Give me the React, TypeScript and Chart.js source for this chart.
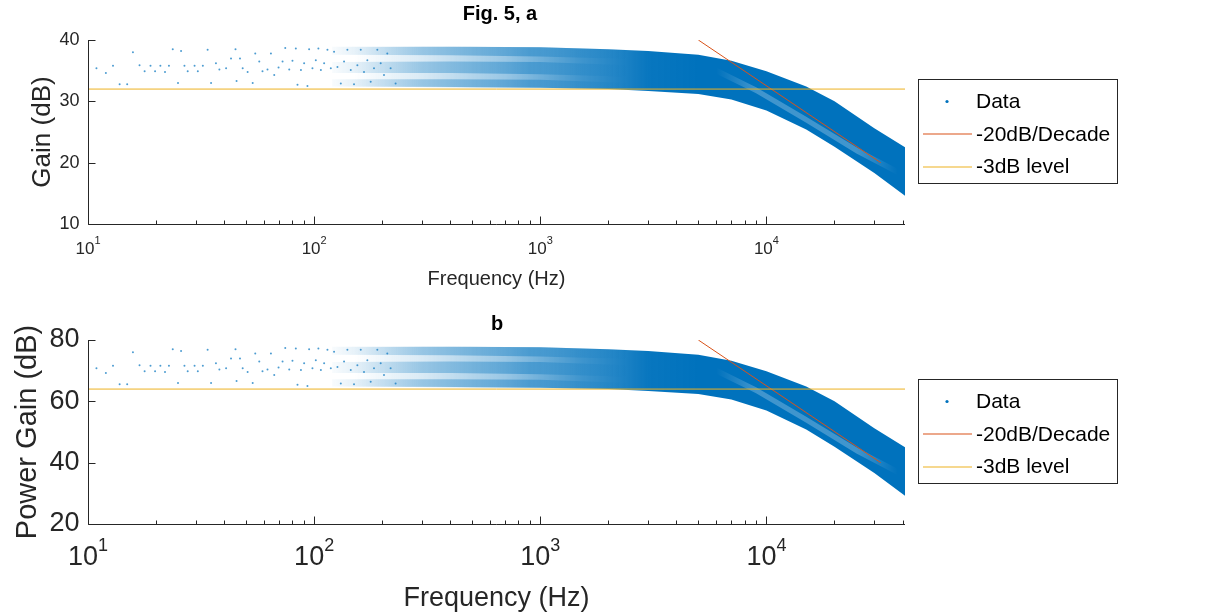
import React, { useEffect, useRef } from "react";
import { Chart, registerables } from "chart.js";

Chart.register(...registerables);

// ---------- data ----------
const X_MIN = 10;
const X_MAX = 41000;

const xTickValues = [10, 100, 1000, 10000];
const xTickExponents = ["1", "2", "3", "4"];
const yTicksA = [10, 20, 30, 40];
const yTicksB = [20, 40, 60, 80];

// sparse low-frequency measurements (Hz)
const sparseFreq = [
  10.9, 12.0, 12.9, 13.8, 14.9, 15.8, 16.9, 17.8, 18.9, 19.8,
  20.9, 21.9, 22.8, 23.7, 25.0, 25.8, 26.7, 27.6, 29.6, 30.6,
  32.2, 33.8, 35.0, 36.8, 38.1, 40.8, 42.9, 44.9, 45.4, 47.0,
  48.3, 50.8, 53.5, 54.9, 57.2, 59.1, 62.2, 64.4, 66.6, 69.6,
  72.5, 74.5, 77.6, 80.2, 83.0, 84.4, 87.4, 90.3, 93.4, 95.0,
  98.3, 101.7, 104.4, 107.1, 110.7, 114.5, 118.5, 122.5, 126.8, 131.2,
  135.6, 140.3, 145.2, 150.1, 155.3, 160.7, 166.1, 171.9, 177.8, 183.9,
  190.3, 196.9, 203.6, 210.6, 217.9, 229.2,
];
const sparseGainA = [
  35.4, 34.6, 35.8, 32.8, 32.8, 38.0, 35.9, 34.9, 35.8, 34.9,
  35.8, 34.8, 35.8, 38.5, 33.0, 38.2, 35.8, 34.9, 35.8, 34.9,
  35.8, 38.4, 33.0, 36.2, 35.2, 35.4, 37.0, 38.5, 33.3, 37.0,
  35.4, 34.8, 33.0, 37.8, 36.5, 34.9, 35.2, 37.8, 34.3, 35.5,
  36.5, 38.7, 35.2, 36.6, 38.6, 32.7, 35.1, 36.2, 32.5, 38.5,
  35.4, 36.7, 38.6, 35.1, 36.2, 38.4, 35.4, 38.1, 35.6, 32.9,
  36.5, 38.4, 35.1, 32.8, 35.9, 38.4, 34.8, 36.7, 33.2, 35.4,
  38.4, 36.2, 34.3, 37.8, 35.4, 32.9,
];
const sparseGainB = [
  70.8, 69.2, 71.6, 65.6, 65.6, 76.0, 71.8, 69.8, 71.6, 69.8,
  71.6, 69.6, 71.6, 77.0, 66.0, 76.4, 71.6, 69.8, 71.6, 69.8,
  71.6, 76.8, 66.0, 72.4, 70.4, 70.8, 74.0, 77.0, 66.6, 74.0,
  70.8, 69.6, 66.0, 75.6, 73.0, 69.8, 70.4, 75.6, 68.6, 71.0,
  73.0, 77.4, 70.4, 73.2, 77.2, 65.4, 70.2, 72.4, 65.0, 77.0,
  70.8, 73.4, 77.2, 70.2, 72.4, 76.8, 70.8, 76.2, 71.2, 65.8,
  73.0, 76.8, 70.2, 65.6, 71.8, 76.8, 69.6, 73.4, 66.4, 70.8,
  76.8, 72.4, 68.6, 75.6, 70.8, 65.8,
];

// dense measurement cloud: upper / lower envelope
const bandFreq = [150, 300, 500, 1000, 2000, 3000, 5000, 7000, 10000, 15000, 20000, 30000, 41000];
const bandUpperA = [38.8, 38.9, 38.9, 38.8, 38.5, 38.2, 37.6, 36.6, 34.9, 32.4, 30.0, 25.6, 22.5];
const bandLowerA = [32.4, 32.4, 32.3, 32.2, 32.0, 31.7, 31.2, 30.3, 28.5, 25.4, 22.6, 18.3, 14.6];
const bandUpperB = [77.6, 77.8, 77.8, 77.6, 77.0, 76.4, 75.2, 73.2, 69.8, 64.8, 60.0, 51.2, 45.0];
const bandLowerB = [64.8, 64.8, 64.6, 64.4, 64.0, 63.4, 62.4, 60.6, 57.0, 50.8, 45.2, 36.6, 29.2];

// denser stripes inside the cloud at mid frequencies
const stripeFreq = [120, 400, 1000, 2500];
const stripeTopUA = [38.9, 38.9, 38.8, 38.4];
const stripeTopLA = [37.6, 37.5, 37.3, 36.9];
const stripeMidUA = [36.4, 36.5, 36.4, 35.9];
const stripeMidLA = [34.6, 34.6, 34.4, 34.0];
const stripeLowUA = [33.6, 33.6, 33.5, 33.0];
const stripeLowLA = [32.4, 32.3, 32.2, 31.9];
const stripeTopUB = [77.8, 77.8, 77.6, 76.8];
const stripeTopLB = [75.2, 75.0, 74.6, 73.8];
const stripeMidUB = [72.8, 73.0, 72.8, 71.8];
const stripeMidLB = [69.2, 69.2, 68.8, 68.0];
const stripeLowUB = [67.2, 67.2, 67.0, 66.0];
const stripeLowLB = [64.8, 64.6, 64.4, 63.8];

// sparser (lighter) streak running through the roll-off part of the cloud
const streakFreq = [6000, 9000, 15000, 25000, 38000];
const streakUpperA = [35.5, 32.3, 27.5, 22.5, 19.0];
const streakLowerA = [34.5, 31.3, 26.5, 21.5, 18.0];
const streakUpperB = [71.0, 64.6, 55.0, 45.0, 38.0];
const streakLowerB = [69.0, 62.6, 53.0, 43.0, 36.0];

// -20 dB/decade reference line
const slopeFreq = [5000, 32000];
const slopeGainA = [40, 20];
const slopeGainB = [80, 40];

// -3 dB level
const levelFreq = [10, 41000];
const levelGainA = [32, 32];
const levelGainB = [64, 64];

// ---------- styling ----------
const FONT = '"Liberation Sans", Arial, Helvetica, sans-serif';
const BLUE = "#0072BD";
const RED = "#D95319";
const YELLOW = "#EDB120";
const AXIS = "#262626";

const pts = (xs: number[], ys: number[]) => xs.map((x, i) => ({ x, y: ys[i] }));

const gradientFill = (stops: [number, number][], rgb: string) => (ctx: any) => {
  const chart = ctx.chart;
  const xs = chart.scales && chart.scales.x;
  if (!chart.chartArea || !xs) return `rgba(${rgb},0.8)`;
  const x0 = xs.getPixelForValue(stops[0][0]);
  const x1 = xs.getPixelForValue(stops[stops.length - 1][0]);
  const g = chart.ctx.createLinearGradient(x0, 0, x1, 0);
  for (const [f, a] of stops) {
    const p = (xs.getPixelForValue(f) - x0) / (x1 - x0);
    g.addColorStop(Math.min(1, Math.max(0, p)), `rgba(${rgb},${a})`);
  }
  return g;
};

const bandStops: [number, number][] = [
  [150, 0],
  [300, 0.15],
  [700, 0.4],
  [1500, 0.75],
  [3000, 0.97],
  [5000, 1],
  [41000, 1],
];
const stripeStops: [number, number][] = [
  [110, 0],
  [300, 0.3],
  [900, 0.4],
  [2500, 0],
];
const streakStops: [number, number][] = [
  [6000, 0],
  [9000, 0.25],
  [25000, 0.25],
  [38000, 0],
];

interface PanelCfg {
  title: string;
  yTitle: string;
  yTicks: number[];
  yMin: number;
  yMax: number;
  height: number;
  yTickFont: number;
  tickFont: number;
  supFont: number;
  xLabelFont: number;
  yLabelFont: number;
  titleFont: number;
  titleX: number;
  titleBase: number;
  xTickBase: number;
  xSupBase: number;
  xTitleBase: number;
  yTitleX: number;
  sparse: number[];
  bandU: number[];
  bandL: number[];
  stripes: number[][];
  streakU: number[];
  streakL: number[];
  slope: number[];
  level: number[];
}

const makeDecor = (cfg: PanelCfg) => ({
  id: "decor",
  afterDraw(chart: any) {
    const c = chart.ctx as CanvasRenderingContext2D;
    const a = chart.chartArea;
    const xs = chart.scales.x;
    const ys = chart.scales.y;
    c.save();
    c.strokeStyle = AXIS;
    c.lineWidth = 1;
    const L = Math.round(a.left) + 0.5;
    const B = Math.round(a.bottom) + 0.5;
    c.beginPath();
    c.moveTo(L, a.top);
    c.lineTo(L, B);
    c.lineTo(a.right, B);
    for (const v of cfg.yTicks) {
      const y = Math.round(ys.getPixelForValue(v)) + 0.5;
      c.moveTo(L, y);
      c.lineTo(L + 7, y);
    }
    for (const v of xTickValues) {
      const x = Math.round(xs.getPixelForValue(v)) + 0.5;
      c.moveTo(x, B);
      c.lineTo(x, B - 8);
      for (let m = 2; m <= 9; m++) {
        const mv = v * m;
        if (mv > X_MAX) break;
        const mx = Math.round(xs.getPixelForValue(mv)) + 0.5;
        c.moveTo(mx, B);
        c.lineTo(mx, B - 4);
      }
    }
    c.stroke();

    // y tick labels
    c.fillStyle = AXIS;
    c.font = `${cfg.yTickFont}px ${FONT}`;
    c.textAlign = "right";
    c.textBaseline = "middle";
    for (const v of cfg.yTicks) c.fillText(String(v), L - 9, ys.getPixelForValue(v));

    // x tick labels 10^n
    c.textAlign = "left";
    c.textBaseline = "alphabetic";
    xTickValues.forEach((v, i) => {
      const px = xs.getPixelForValue(v);
      c.font = `${cfg.tickFont}px ${FONT}`;
      const w1 = c.measureText("10").width;
      c.font = `${cfg.supFont}px ${FONT}`;
      const w2 = c.measureText(xTickExponents[i]).width;
      const x0 = px - (w1 + w2) / 2;
      c.font = `${cfg.tickFont}px ${FONT}`;
      c.fillText("10", x0, cfg.xTickBase);
      c.font = `${cfg.supFont}px ${FONT}`;
      c.fillText(xTickExponents[i], x0 + w1, cfg.xSupBase);
    });

    // axis titles
    const cx = (a.left + a.right) / 2;
    c.font = `${cfg.xLabelFont}px ${FONT}`;
    c.textAlign = "center";
    c.fillText("Frequency (Hz)", cx, cfg.xTitleBase);
    c.save();
    c.font = `${cfg.yLabelFont}px ${FONT}`;
    c.translate(cfg.yTitleX, (a.top + a.bottom) / 2);
    c.rotate(-Math.PI / 2);
    c.textBaseline = "middle";
    c.fillText(cfg.yTitle, 0, 0);
    c.restore();

    // title
    c.fillStyle = "#000";
    c.font = `bold ${cfg.titleFont}px ${FONT}`;
    c.textAlign = "center";
    c.textBaseline = "alphabetic";
    c.fillText(cfg.title, cfg.titleX, cfg.titleBase);

    // legend
    const bx = 918.5, by = 79.5, bw = 199, bh = 104;
    c.fillStyle = "#fff";
    c.fillRect(bx, by, bw, bh);
    c.strokeStyle = AXIS;
    c.lineWidth = 1;
    c.strokeRect(bx, by, bw, bh);
    const rows = [22, 54.5, 87];
    const entries = chart.data.datasets.filter((d: any) => d.label && !d.label.startsWith("_"));
    c.font = `21px ${FONT}`;
    c.textAlign = "left";
    c.textBaseline = "middle";
    entries.forEach((d: any, i: number) => {
      const y = by + rows[i];
      if (d.showLine === false) {
        c.fillStyle = BLUE;
        c.beginPath();
        c.arc(947, y, 1.6, 0, Math.PI * 2);
        c.fill();
      } else {
        c.strokeStyle = d.borderColor;
        c.lineWidth = 1.2;
        c.beginPath();
        c.moveTo(923, Math.round(y));
        c.lineTo(972, Math.round(y));
        c.stroke();
      }
      c.fillStyle = "#000";
      c.fillText(d.label, 976, y + 1);
    });
    c.restore();
  },
});

function buildChart(canvas: HTMLCanvasElement, cfg: PanelCfg) {
  const fillPair = (
    u: number[],
    l: number[],
    xs: number[],
    stops: [number, number][],
    rgb: string,
    name: string,
    order: number
  ) => [
    {
      label: "_" + name + "U",
      data: pts(xs, u),
      showLine: true,
      borderWidth: 0,
      borderColor: "rgba(0,0,0,0)",
      pointRadius: 0,
      fill: "+1",
      backgroundColor: gradientFill(stops, rgb),
      order,
    },
    {
      label: "_" + name + "L",
      data: pts(xs, l),
      showLine: true,
      borderWidth: 0,
      borderColor: "rgba(0,0,0,0)",
      pointRadius: 0,
      fill: false,
      order,
    },
  ];
  const datasets: any[] = [
    {
      label: "Data",
      data: pts(sparseFreq, cfg.sparse),
      showLine: false,
      pointRadius: 1,
      pointBorderWidth: 0,
      pointBackgroundColor: "rgba(0,114,189,0.7)",
      borderColor: BLUE,
      order: 4,
    },
    {
      label: "-20dB/Decade",
      data: pts(slopeFreq, cfg.slope),
      showLine: true,
      borderColor: RED,
      borderWidth: 1,
      pointRadius: 0,
      fill: false,
      order: 1,
    },
    {
      label: "-3dB level",
      data: pts(levelFreq, cfg.level),
      showLine: true,
      borderColor: YELLOW,
      borderWidth: 1,
      pointRadius: 0,
      fill: false,
      order: 0,
    },
    ...fillPair(cfg.bandU, cfg.bandL, bandFreq, bandStops, "0,114,189", "band", 6),
    ...fillPair(cfg.stripes[0], cfg.stripes[1], stripeFreq, stripeStops, "0,114,189", "s1", 5),
    ...fillPair(cfg.stripes[2], cfg.stripes[3], stripeFreq, stripeStops, "0,114,189", "s2", 5),
    ...fillPair(cfg.stripes[4], cfg.stripes[5], stripeFreq, stripeStops, "0,114,189", "s3", 5),
    ...fillPair(cfg.streakU, cfg.streakL, streakFreq, streakStops, "255,255,255", "streak", 3),
  ];
  return new Chart(canvas, {
    type: "line",
    data: { datasets },
    options: {
      animation: false,
      responsive: false,
      devicePixelRatio: 1,
      events: [],
      layout: { padding: { left: 88, right: 1214 - 905, top: 40, bottom: cfg.height - 224 } },
      scales: {
        x: { type: "logarithmic", min: X_MIN, max: X_MAX, display: false },
        y: { type: "linear", min: cfg.yMin, max: cfg.yMax, display: false },
      },
      plugins: {
        legend: { display: false },
        tooltip: { enabled: false },
        title: { display: false },
      },
      elements: { line: { tension: 0 } },
    },
    plugins: [makeDecor(cfg)],
  });
}

const cfgA: PanelCfg = {
  title: "Fig. 5, a",
  yTitle: "Gain (dB)",
  yTicks: yTicksA,
  yMin: 10,
  yMax: 40,
  height: 300,
  yTickFont: 18,
  tickFont: 17,
  supFont: 11,
  xLabelFont: 20,
  yLabelFont: 26,
  titleFont: 20,
  titleX: 500,
  titleBase: 20,
  xTickBase: 254,
  xSupBase: 244,
  xTitleBase: 285,
  yTitleX: 43,
  sparse: sparseGainA,
  bandU: bandUpperA,
  bandL: bandLowerA,
  stripes: [stripeTopUA, stripeTopLA, stripeMidUA, stripeMidLA, stripeLowUA, stripeLowLA],
  streakU: streakUpperA,
  streakL: streakLowerA,
  slope: slopeGainA,
  level: levelGainA,
};

const cfgB: PanelCfg = {
  title: "b",
  yTitle: "Power Gain (dB)",
  yTicks: yTicksB,
  yMin: 20,
  yMax: 80,
  height: 313,
  yTickFont: 27,
  tickFont: 27,
  supFont: 18,
  xLabelFont: 27,
  yLabelFont: 29,
  titleFont: 20,
  titleX: 497,
  titleBase: 30,
  xTickBase: 265,
  xSupBase: 251,
  xTitleBase: 306,
  yTitleX: 28,
  sparse: sparseGainB,
  bandU: bandUpperB,
  bandL: bandLowerB,
  stripes: [stripeTopUB, stripeTopLB, stripeMidUB, stripeMidLB, stripeLowUB, stripeLowLB],
  streakU: streakUpperB,
  streakL: streakLowerB,
  slope: slopeGainB,
  level: levelGainB,
};

export default function App() {
  const refA = useRef<HTMLCanvasElement>(null);
  const refB = useRef<HTMLCanvasElement>(null);
  useEffect(() => {
    const a = buildChart(refA.current!, cfgA);
    const b = buildChart(refB.current!, cfgB);
    return () => {
      a.destroy();
      b.destroy();
    };
  }, []);
  return (
    <div style={{ position: "absolute", left: 0, top: 0, width: 1214, height: 613, background: "#fff", overflow: "hidden" }}>
      <canvas ref={refA} width={1214} height={300} style={{ position: "absolute", left: 0, top: 0 }} />
      <canvas ref={refB} width={1214} height={313} style={{ position: "absolute", left: 0, top: 300 }} />
    </div>
  );
}
